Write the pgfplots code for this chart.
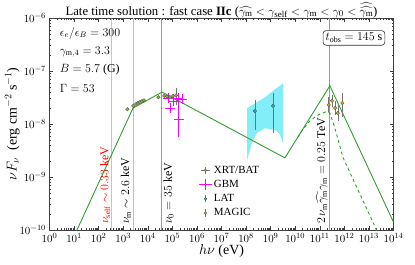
\documentclass[border=0pt]{standalone}
\usepackage{fontspec}
\setmainfont{Liberation Serif}
\usepackage{amsmath}
\usepackage{pgfplots}
\pgfplotsset{compat=1.18}
\definecolor{mygreen}{RGB}{44,160,44}
\definecolor{xrtc}{RGB}{140,180,60}
\definecolor{latc}{RGB}{50,170,175}
\definecolor{magicc}{RGB}{225,160,30}
\definecolor{gbmc}{RGB}{255,0,255}
\definecolor{bfly}{RGB}{130,238,248}
\begin{document}
\begin{tikzpicture}
\useasboundingbox (0,0) rectangle (415bp,265bp);
\begin{axis}[
  at={(49.5bp,35bp)}, anchor=south west,
  width=344bp, height=212bp, scale only axis,
  xmode=log, ymode=log,
  xmin=1, xmax=1e14, ymin=1e-10, ymax=1e-6,
  xtick={1,1e1,1e2,1e3,1e4,1e5,1e6,1e7,1e8,1e9,1e10,1e11,1e12,1e13,1e14},
  ytick={1e-10,1e-9,1e-8,1e-7,1e-6},
  tick align=inside,
  major tick length=4bp, minor tick length=2bp,
  axis line style={black!75, line width=0.7pt},
  tick style={black!75, line width=0.5pt},
  tick label style={font=\fontsize{11}{13}\selectfont},
  title={Late time solution : fast case \textbf{IIc} ($\widehat{\gamma_{\mathrm{m}}}<\gamma_{\mathrm{self}}<\gamma_{\mathrm{m}}<\gamma_0<\widehat{\widehat{\gamma_{\mathrm{m}}}}$)},
  every axis title/.style={at={(axis description cs:0.5,1)}, anchor=base, yshift=3bp, font=\fontsize{12.8}{14}\selectfont},
  xlabel={$h\nu$ (eV)},
  ylabel={$\nu F_\nu$\ \ (erg cm$^{-2}$ s$^{-1}$)},
  every axis x label/.style={at={(axis description cs:0.5,-0.098)}, anchor=center, font=\fontsize{14}{16}\selectfont},
  every axis y label/.style={at={(axis description cs:-0.108,0.5)}, anchor=center, rotate=90, font=\fontsize{14}{16}\selectfont},
  legend style={at={(0.425,0.322)}, anchor=north west, draw=none, fill=none,
    font=\fontsize{11}{13}\selectfont, row sep=1.5pt},
  legend cell align=left,
  error bars/error bar style={black!55, line width=0.5pt},
  error bars/error mark=none,
]
% butterfly
\addplot[fill=bfly, draw=none, forget plot] coordinates {
 (1.1e8,2.0e-8) (2.5e8,2.5e-8) (5.9e8,3.2e-8) (1.4e9,4.4e-8) (3.2e9,5.9e-8)
 (3.2e9,4.4e-9) (2.2e9,6.8e-9) (1.4e9,7.8e-9) (5.9e8,8.3e-9) (2.8e8,6.8e-9)
 (1.8e8,4.6e-9) (1.1e8,2.1e-9)} -- cycle;
% vertical lines
\addplot[red!70, opacity=0.45, line width=0.8pt, forget plot] coordinates {(330,1e-10) (330,1e-6)};
\addplot[black!25, line width=1.6pt, forget plot] coordinates {(2.6e3,1e-10) (2.6e3,1e-6)};
\addplot[black!40, line width=0.6pt, forget plot] coordinates {(3.5e4,1e-10) (3.5e4,1e-6)};
\addplot[black!40, line width=0.6pt, forget plot] coordinates {(2.5e11,1e-10) (2.5e11,1e-6)};
% model
\addplot[mygreen, line width=0.9pt, forget plot] coordinates {
 (10,7.6e-11) (2.51e3,2.0e-8) (3.8e4,4.0e-8) (3.8e9,2.3e-9) (2.57e11,5.25e-8) (1e14,1.41e-10)};
\addplot[mygreen, line width=0.9pt, dashed, forget plot] coordinates {
 (1.26e10,5.6e-9) (1.86e10,7.4e-9) (4.0e10,1.15e-8) (8.5e10,1.48e-8) (1.78e11,1.7e-8)
 (2.57e11,1.62e-8) (3.8e11,9.5e-9) (8.9e11,2.3e-9) (1.78e13,1.15e-10) (2.3e13,8.5e-11)};
% XRT/BAT
\addplot[only marks, mark=*, mark size=1.8pt, mark options={fill=xrtc, draw=black!70, line width=0.3pt},
  legend image code/.code={
  \path[draw=black!55, line width=0.5pt] (0.15cm,0cm)--(0.45cm,0cm) (0.3cm,-0.13cm)--(0.3cm,0.13cm);
  \path[draw=black!70, fill=xrtc, line width=0.3pt] (0.3cm,0cm) circle (1.4pt);},
  error bars/.cd, y dir=both, y explicit,
  ] coordinates {
 (1.47e3,1.9e-8) +- (0,0.1e-8)
 (2.57e3,2.2e-8) +- (0,0.1e-8)
 (3.3e3,2.4e-8) +- (0,0.1e-8)
 (4.0e3,2.5e-8) +- (0,0.1e-8)
 (4.8e3,2.6e-8) +- (0,0.1e-8)
 (5.8e3,2.7e-8) +- (0,0.1e-8)
 (7.0e3,2.8e-8) +- (0,0.1e-8)
 (2.7e4,3.2e-8) +- (0,0.2e-8)
 (4.7e4,3.4e-8) +- (0,0.2e-8)
 (6.0e4,3.3e-8) +- (0,0.2e-8)
 (8.0e4,3.2e-8) +- (0,0.2e-8)
 (1.06e5,3.4e-8) +- (0,0.3e-8)
 (1.4e5,3.47e-8) += (0,1.3e-8) -= (0,1.2e-8)
};
\addlegendentry{XRT/BAT}
% GBM
\addplot[draw=none, mark=none,
  legend image code/.code={
  \path[draw=gbmc, line width=0.6pt] (0.08cm,0cm)--(0.52cm,0cm) (0.3cm,-0.2cm)--(0.3cm,0.2cm);},
  error bars/.cd, x dir=both, y dir=both, x explicit relative, y explicit relative,
  error bar style={gbmc, line width=0.6pt}] coordinates {
 (6.6e4,3.1e-8) += (0.58,0.26) -= (0.37,0.2)
 (8.0e4,2.0e-8) += (0.58,0.26) -= (0.37,0.2)
 (1.07e5,2.7e-8) += (0.58,0.26) -= (0.37,0.2)
 (1.7e5,3.1e-8) += (0.58,0.26) -= (0.37,0.2)
 (2.5e5,2.95e-8) += (0.58,0.26) -= (0.37,0.2)
 (1.8e5,1.24e-8) += (0.58,1.58) -= (0.37,0.54)
};
\addlegendentry{GBM}
% LAT
\addplot[only marks, mark=*, mark size=1.8pt, mark options={fill=latc, draw=black!70, line width=0.3pt},
  legend image code/.code={
  \path[draw=black!55, line width=0.5pt] (0.3cm,-0.13cm)--(0.3cm,0.13cm);
  \path[draw=black!70, fill=latc, line width=0.3pt] (0.3cm,0cm) circle (1.4pt);},
  error bars/.cd, y dir=both, y explicit] coordinates {
 (2.3e8,1.76e-8) += (0,1.08e-8) -= (0,1.0e-8)
 (1.25e9,2.19e-8) += (0,1.66e-8) -= (0,1.51e-8)
};
\addlegendentry{LAT}
% MAGIC
\addplot[only marks, mark=*, mark size=1.8pt, mark options={fill=magicc, draw=black!70, line width=0.3pt},
  legend image code/.code={
  \path[draw=black!55, line width=0.5pt] (0.3cm,-0.13cm)--(0.3cm,0.13cm);
  \path[draw=black!70, fill=magicc, line width=0.3pt] (0.3cm,0cm) circle (1.4pt);},
  error bars/.cd, y dir=both, y explicit relative] coordinates {
 (2.3e11,2.3e-8) += (0,0.38) -= (0,0.27)
 (3.2e11,2.75e-8) += (0,0.3) -= (0,0.23)
 (4.2e11,2.0e-8) += (0,0.38) -= (0,0.27)
 (5.4e11,1.6e-8) += (0,0.4) -= (0,0.3)
 (8.3e11,2.5e-8) += (0,0.55) -= (0,0.46)
};
\addlegendentry{MAGIC}
% labels on lines
\node[rotate=90, anchor=south west, inner sep=1pt, red, font=\fontsize{12}{14}\selectfont] at (axis cs:330,1.24e-10) {$\nu_{\mathrm{self}}\sim 0.33$ keV};
\node[rotate=90, anchor=south west, inner sep=1pt, font=\fontsize{12}{14}\selectfont] at (axis cs:2.3e3,1.24e-10) {$\nu_{\mathrm{m}}\sim 2.6$ keV};
\node[rotate=90, anchor=north west, inner sep=1pt, font=\fontsize{12}{14}\selectfont] at (axis cs:3.9e4,1.24e-10) {$\nu_0 = 35$ keV};
\node[rotate=90, anchor=south west, inner sep=1pt, font=\fontsize{12}{14}\selectfont] at (axis cs:2.3e11,1.24e-10) {$2\,\nu_{\mathrm{m}}\widehat{\gamma_{\mathrm{m}}}\gamma_{\mathrm{m}} = 0.25$ TeV};
% parameters
\node[anchor=west, font=\fontsize{12}{14}\selectfont] at (axis description cs:0.02,0.929) {$\epsilon_e/\epsilon_B = 300$};
\node[anchor=west, font=\fontsize{12}{14}\selectfont] at (axis description cs:0.02,0.840) {$\gamma_{\mathrm{m},4} = 3.3$};
\node[anchor=west, font=\fontsize{12}{14}\selectfont] at (axis description cs:0.02,0.755) {$B = 5.7$ (G)};
\node[anchor=west, font=\fontsize{12}{14}\selectfont] at (axis description cs:0.02,0.670) {$\Gamma = 53$};
\node[draw=black!80, rounded corners=3pt, fill=white, inner sep=2.5pt, line width=0.6pt, font=\fontsize{12}{14}\selectfont] at (axis description cs:0.885,0.906) {$t_{\mathrm{obs}} = 145$ s};
\end{axis}
\end{tikzpicture}
\end{document}
